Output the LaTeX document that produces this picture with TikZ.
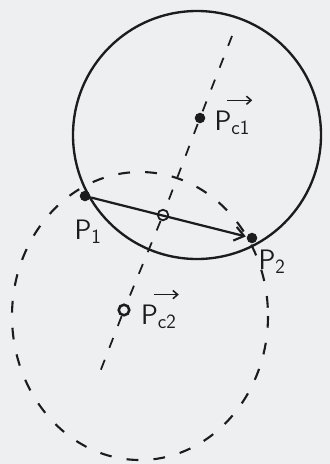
\documentclass[tikz,border=0pt]{standalone}
\usetikzlibrary{arrows.meta, positioning}
\definecolor{paper}{RGB}{237,239,241}
\definecolor{pen}{RGB}{28,28,30}

\begin{document}
\begin{tikzpicture}[
    x=0.03cm, y=-0.03cm,
    >={Straight Barb[length=8pt, width=12pt, line width=1.8pt]},
    line width=1.9pt, draw=pen,
    font=\sffamily\fontsize{24}{26}\selectfont,
    solidcirc/.style={draw=pen, line width=2pt},
    dashcirc/.style={draw=pen, line width=1.8pt, dash pattern=on 10pt off 13pt},
    axisline/.style={draw=pen, line width=1.5pt, dash pattern=on 9pt off 11pt},
    dot/.style={circle, fill=pen, inner sep=0pt, minimum size=9pt},
    ring/.style={circle, draw=pen, line width=2.2pt, fill=paper, inner sep=0pt, minimum size=9pt},
    hollow/.style={circle, draw=pen, line width=1.5pt, fill=paper, inner sep=0pt, minimum size=9pt},
    ptlabel/.style={text=pen, inner sep=1pt},
    vecbar/.style={draw=pen, line width=1.3pt,
                   -{Straight Barb[length=4pt, width=7pt, line width=1.3pt]}}
  ]
    \fill[paper] (0,0) rectangle (330,464);
    \useasboundingbox (0,0) rectangle (330,464);

    % the two circles through p1 and p2
    \draw[solidcirc] (197,135) circle[radius=124];
    \draw[dashcirc] (140,316) ellipse[x radius=128, y radius=144];

    \node[dot]    (p1)  at (85,196)  {};
    \node[dot]    (p2)  at (252,238) {};
    \node[dot]    (pc1) at (200,118) {};
    \node[ring]   (pc2) at (124,310) {};
    \node[hollow] (mid) at (163,215) {};
    \coordinate (top) at (232,36);
    \coordinate (bot) at (100,372);

    % axis through both centres
    \draw[axisline] (top) -- (pc1) -- (mid) -- (pc2) -- (bot);

    \draw[->] (p1) -- (p2);

    \node[ptlabel] (lp1)  at (88,232)  {P$_{\mathsf{1}}$};
    \node[ptlabel] (lp2)  at (272,262) {P$_{\mathsf{2}}$};
    \node[ptlabel, right=5pt of pc1, yshift=-4pt] (lpc1) {P$_{\mathsf{c1}}$};
    \node[ptlabel, right=7pt of pc2, yshift=-6pt] (lpc2) {P$_{\mathsf{c2}}$};

    % vector bars over the centre labels
    \draw[vecbar] ([xshift=13pt, yshift=7pt]lpc1.north west) -- ([yshift=7pt]lpc1.north east);
    \draw[vecbar] ([xshift=13pt, yshift=7pt]lpc2.north west) -- ([yshift=7pt]lpc2.north east);
  \end{tikzpicture}
\end{document}
